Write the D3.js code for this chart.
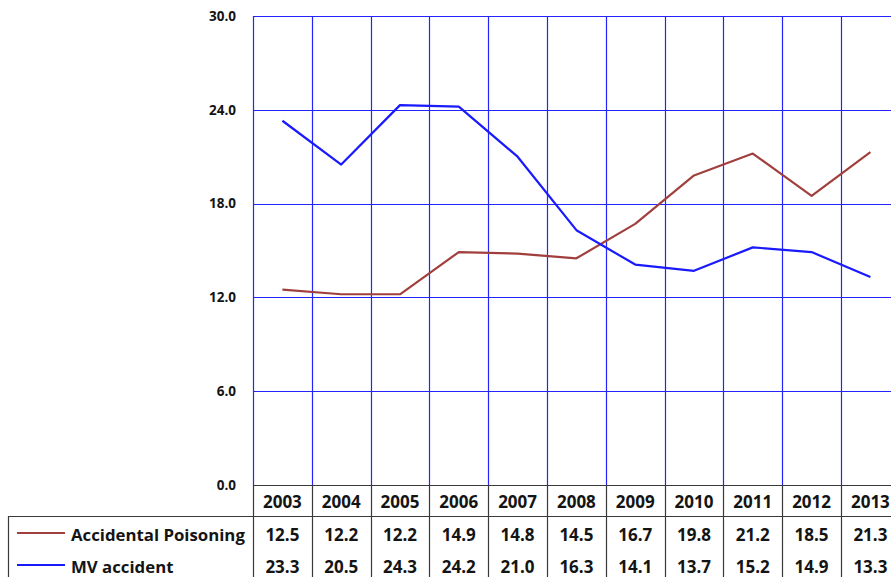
<!DOCTYPE html>
<html>
<head>
<meta charset="utf-8">
<script src="https://cdn.jsdelivr.net/npm/d3@7/dist/d3.min.js"></script>
<style>
  html, body { margin: 0; padding: 0; background: #fff; }
  svg { display: block; }
  text { font-family: "Open Sans", Lato, sans-serif; font-weight: bold; fill: #141414; }
</style>
</head>
<body>
<svg id="chart" width="891" height="577"></svg>
<script>
// Chart data
const years = ["2003","2004","2005","2006","2007","2008","2009","2010","2011","2012","2013"];
const poisoning = [12.5, 12.2, 12.2, 14.9, 14.8, 14.5, 16.7, 19.8, 21.2, 18.5, 21.3];
const mvAccident = [23.3, 20.5, 24.3, 24.2, 21.0, 16.3, 14.1, 13.7, 15.2, 14.9, 13.3];
const yTicks = [0, 6, 12, 18, 24, 30];
const seriesNames = ["Accidental Poisoning", "MV accident"];
const seriesColors = ["#a0403e", "#1a1aff"];

const series = [
  { name: seriesNames[0], values: poisoning, color: seriesColors[0] },
  { name: seriesNames[1], values: mvAccident, color: seriesColors[1] }
];

const svg = d3.select("#chart");

// Plot area geometry
const plotLeft = 253, plotTop = 16, plotBottom = 485;
const band = 58.8;
const plotRight = plotLeft + band * years.length;

const x = d3.scaleBand().domain(years).range([plotLeft, plotRight]).paddingInner(0).paddingOuter(0);
const y = d3.scaleLinear().domain([0, 30]).range([plotBottom, plotTop]);

const gridColor = "#2424ff";
const tableColor = "#3a3a3a";

// Horizontal gridlines
svg.append("g")
  .selectAll("line")
  .data(yTicks.filter(t => t > 0))
  .join("line")
  .attr("x1", plotLeft).attr("x2", plotRight)
  .attr("y1", d => Math.round(y(d)) + 0.5).attr("y2", d => Math.round(y(d)) + 0.5)
  .attr("stroke", gridColor).attr("stroke-width", 1.2);

// Vertical gridlines at category boundaries
const boundaries = years.map(yr => x(yr)).concat([plotRight]);
svg.append("g")
  .selectAll("line")
  .data(boundaries)
  .join("line")
  .attr("x1", d => Math.round(d) + 0.5).attr("x2", d => Math.round(d) + 0.5)
  .attr("y1", plotTop).attr("y2", plotBottom)
  .attr("stroke", gridColor).attr("stroke-width", 1.2);

// Y axis labels
const yAxis = d3.axisLeft(y).tickValues(yTicks).tickFormat(d3.format(".1f")).tickSize(0).tickPadding(17);
const yg = svg.append("g").attr("transform", `translate(${plotLeft},0)`).call(yAxis);
yg.select(".domain").remove();
yg.selectAll("text")
  .attr("font-size", 13.5)
  .attr("font-family", "'DejaVu Sans', sans-serif")
  .attr("font-weight", "bold")
  .attr("fill", "#141414");

// Series lines
const line = d3.line()
  .x((d, i) => x(years[i]) + x.bandwidth() / 2)
  .y(d => y(d));

svg.append("g")
  .selectAll("path")
  .data(series)
  .join("path")
  .attr("d", d => line(d.values))
  .attr("fill", "none")
  .attr("stroke", d => d.color)
  .attr("stroke-width", 2.2)
  .attr("stroke-linejoin", "round");

// Data table below the plot
const headerTop = plotBottom, headerBottom = 516;
const rowH = 32;
const legendLeft = 8.5;
const table = svg.append("g");

// Header row top edge and separator
table.append("line")
  .attr("x1", plotLeft).attr("x2", plotRight)
  .attr("y1", headerTop + 0.5).attr("y2", headerTop + 0.5)
  .attr("stroke", tableColor).attr("stroke-width", 1.2);
table.append("line")
  .attr("x1", legendLeft).attr("x2", plotRight)
  .attr("y1", headerBottom + 0.5).attr("y2", headerBottom + 0.5)
  .attr("stroke", tableColor).attr("stroke-width", 1.2);
// Legend column left edge
table.append("line")
  .attr("x1", legendLeft).attr("x2", legendLeft)
  .attr("y1", headerBottom).attr("y2", 577 + 5)
  .attr("stroke", tableColor).attr("stroke-width", 1.2);
// Column separators
table.selectAll("line.col")
  .data(boundaries)
  .join("line")
  .attr("class", "col")
  .attr("x1", d => Math.round(d) + 0.5).attr("x2", d => Math.round(d) + 0.5)
  .attr("y1", headerTop).attr("y2", 577 + 5)
  .attr("stroke", tableColor).attr("stroke-width", 1.2);

// Year headers
table.selectAll("text.year")
  .data(years)
  .join("text")
  .attr("class", "year")
  .attr("x", d => x(d) + x.bandwidth() / 2)
  .attr("y", (headerTop + headerBottom) / 2 + 1)
  .attr("text-anchor", "middle")
  .attr("dominant-baseline", "central")
  .attr("font-size", 17)
  .text(d => d);

// Series rows: legend key, name and values
series.forEach((s, r) => {
  const cy = headerBottom + rowH * r + 17;
  table.append("line")
    .attr("x1", 17).attr("x2", 65)
    .attr("y1", cy).attr("y2", cy)
    .attr("stroke", s.color).attr("stroke-width", 2.2);
  table.append("text")
    .attr("x", 71).attr("y", cy + 1)
    .attr("dominant-baseline", "central")
    .attr("font-size", 16.8)
    .text(s.name);
  table.append("g")
    .selectAll("text")
    .data(s.values)
    .join("text")
    .attr("x", (d, i) => x(years[i]) + x.bandwidth() / 2)
    .attr("y", cy + 1)
    .attr("text-anchor", "middle")
    .attr("dominant-baseline", "central")
    .attr("font-size", 17)
    .text(d => d3.format(".1f")(d));
});
</script>
</body>
</html>
